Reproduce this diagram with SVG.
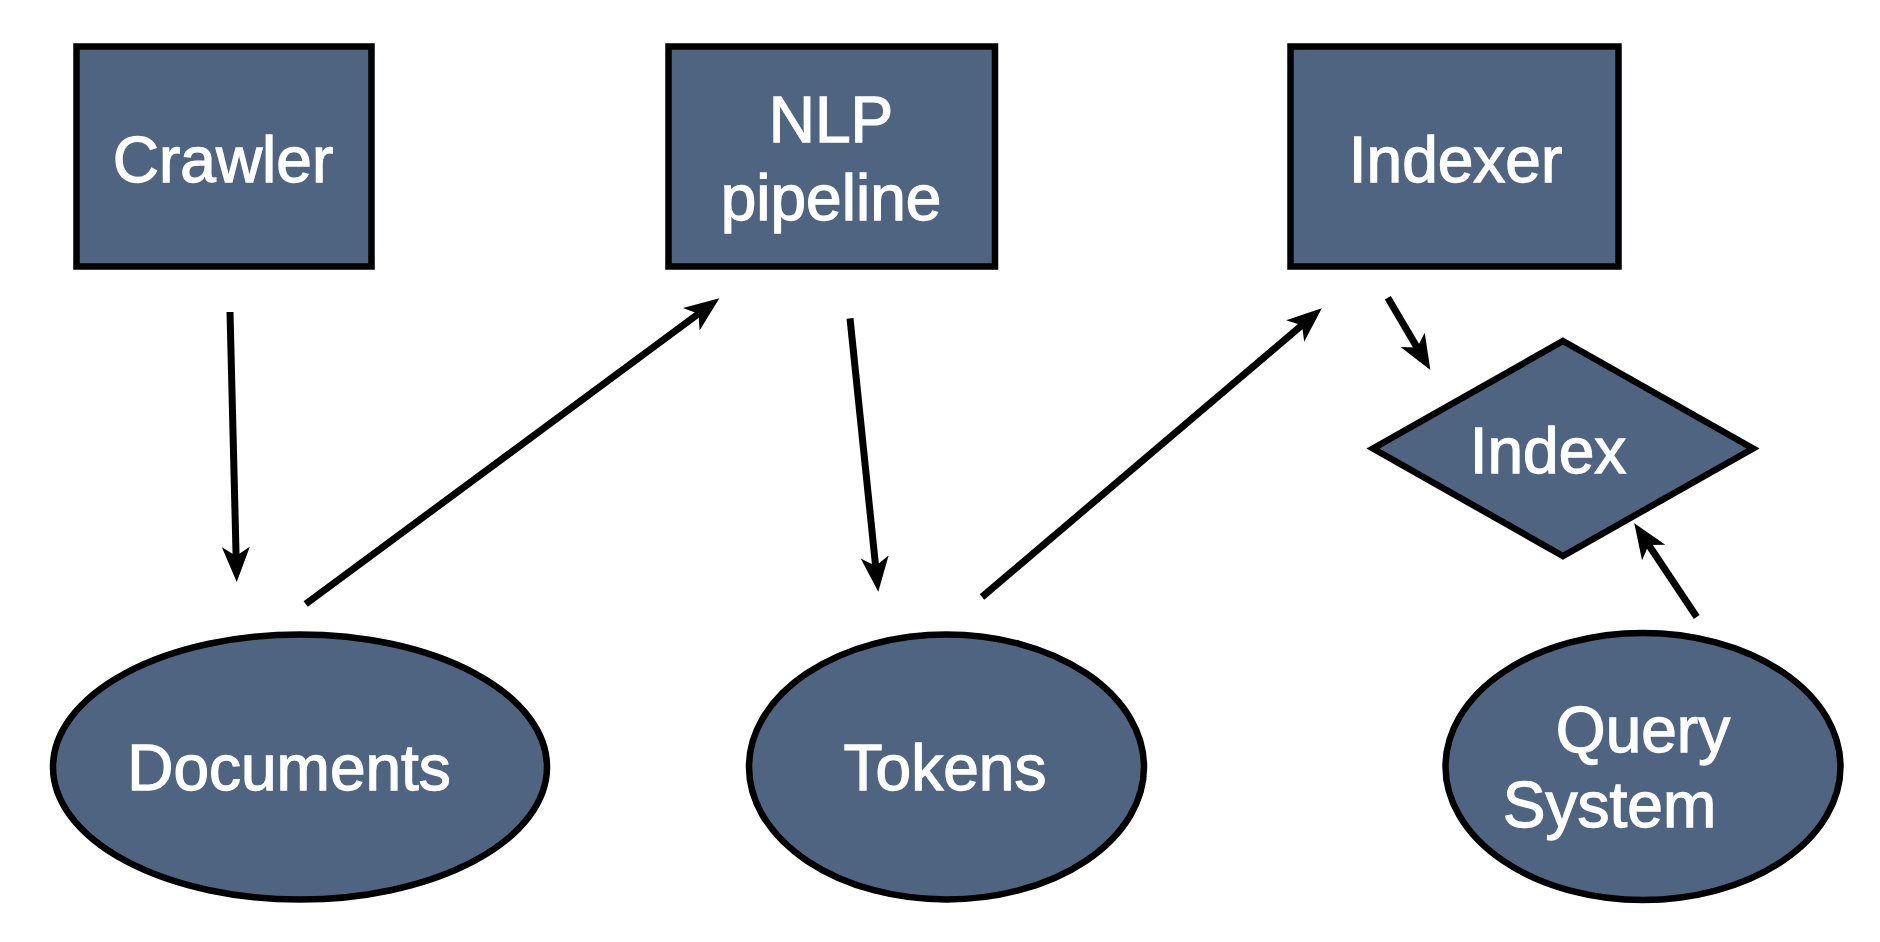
<svg xmlns="http://www.w3.org/2000/svg" width="1880" height="942" viewBox="0 0 1880 942">
<style>
.shape{fill:#4f6480;stroke:#000;stroke-width:6.5}
.lbl{fill:#fff;stroke:#fff;stroke-width:1.3;font-family:"Liberation Sans",Arial,Helvetica,sans-serif;font-size:64px;text-anchor:middle}
.edge{stroke:#000;stroke-width:7;fill:none;marker-end:url(#arr)}
</style>
<defs>
<marker id="arr" markerUnits="userSpaceOnUse" markerWidth="42" markerHeight="32" viewBox="0 0 42 32" refX="9" refY="16" orient="auto">
<path d="M0 2 L35 16 L0 30 L9 16 Z" fill="#000"/>
</marker>
</defs>
<rect width="1880" height="942" fill="#fff"/>
<g id="connectors">
<line class="edge" x1="230" y1="312" x2="236.1" y2="556"/>
<line class="edge" x1="305.7" y1="604" x2="698.5" y2="313.8"/>
<line class="edge" x1="850" y1="318.3" x2="875.6" y2="566"/>
<line class="edge" x1="982" y1="597" x2="1302" y2="325.2"/>
<line class="edge" x1="1387.8" y1="297.7" x2="1417.2" y2="347.6"/>
<line class="edge" x1="1696.7" y1="617" x2="1648.7" y2="545"/>
</g>
<g id="crawler">
<rect class="shape" x="76.5" y="46.5" width="295" height="220"/>
<text class="lbl" x="223" y="182">Crawler</text>
</g>
<g id="nlp">
<rect class="shape" x="668.5" y="46.5" width="326.5" height="220"/>
<text class="lbl" x="831" y="141.5">NLP</text>
<text class="lbl" x="831" y="219.5">pipeline</text>
</g>
<g id="indexer">
<rect class="shape" x="1290.5" y="46.5" width="328" height="220"/>
<text class="lbl" x="1455.5" y="182">Indexer</text>
</g>
<g id="index">
<polygon class="shape" points="1563,341 1753,448.5 1563,556 1373,448.5"/>
<text class="lbl" x="1548" y="473">Index</text>
</g>
<g id="documents">
<ellipse class="shape" cx="300" cy="767" rx="247" ry="132.5"/>
<text class="lbl" x="289" y="790">Documents</text>
</g>
<g id="tokens">
<ellipse class="shape" cx="946.5" cy="767" rx="197.5" ry="132.5"/>
<text class="lbl" x="945" y="790">Tokens</text>
</g>
<g id="query">
<ellipse class="shape" cx="1643" cy="766.5" rx="197.5" ry="133.5"/>
<text class="lbl" x="1643" y="752">Query</text>
<text class="lbl" x="1609.5" y="827">System</text>
</g>
</svg>
